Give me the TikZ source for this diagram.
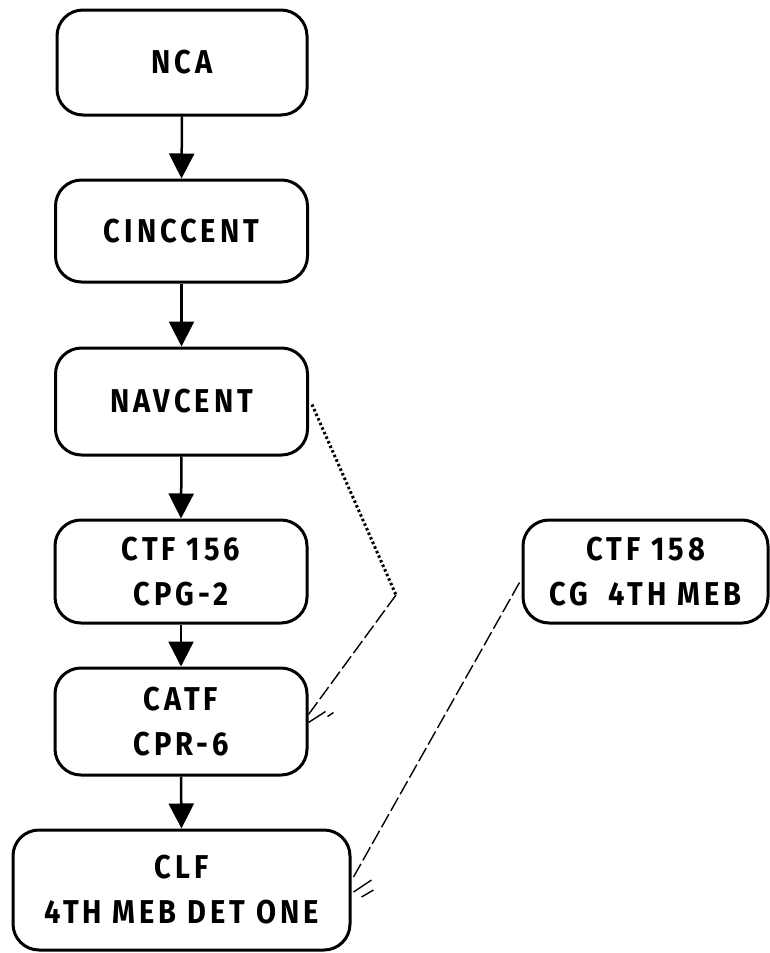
\documentclass[tikz,border=0pt]{standalone}
\usepackage{fontspec}
\newfontfamily\boxfont{Fira Sans}[FakeStretch=0.88,LetterSpace=12]
\usetikzlibrary{arrows.meta,calc}
\begin{document}
\begin{tikzpicture}[x=1pt,y=-1pt,
  orgbox/.style={draw,line width=3pt,rounded corners=26pt,rectangle,
    minimum width=252pt,minimum height=105pt,inner sep=0pt,align=center,
    font=\boxfont\bfseries\fontsize{33}{45}\selectfont},
  flow/.style={line width=2.5pt,-{Triangle[width=25pt,length=25pt]}},
  dotline/.style={line width=3pt,dash pattern=on 2.5pt off 2.5pt},
  dashline/.style={line width=1.4pt,dash pattern=on 15pt off 4pt},
  hash/.style={line width=1.4pt}]
\useasboundingbox (0,0) rectangle (770,953);
\node[orgbox,minimum width=250pt] (nca) at (182,62.5) {NCA};
\node[orgbox,minimum height=102pt] (cinc) at (181.5,231) {CINCCENT};
\node[orgbox,minimum height=107pt] (nav) at (181.5,401.5) {NAVCENT};
\node[orgbox,minimum height=103pt] (ctfa) at (181,571.5) {CTF 156\\CPG-2};
\node[orgbox,minimum height=107pt] (catf) at (181,721.5) {CATF\\CPR-6};
\node[orgbox,minimum width=337pt,minimum height=120pt] (clf) at (181.5,890) {CLF\\4TH MEB DET ONE};
\node[orgbox,minimum width=245pt,minimum height=103pt] (ctfb) at (645.5,571.5) {CTF 158\\CG\hspace{10pt} 4TH MEB};
\draw[flow] (nca.south) -- (cinc.north);
\draw[flow] (cinc.south) -- (nav.north);
\draw[flow] (nav.south) -- (ctfa.north);
\draw[flow] (ctfa.south) -- (catf.north);
\draw[flow] (catf.south) -- (clf.north);
\coordinate (bend) at (396,595);
\coordinate (e1) at ($(catf.east)+(0,-7)$);
\coordinate (s2) at ($(ctfb.west)+(-2,11)$);
\coordinate (e2) at ($(clf.east)+(2,-13)$);
\draw[dotline] ($(nav.east)+(3,3)$) -- (bend);
\draw[dashline] (bend) -- (e1);
\draw[hash] ($(e1)+(0,8)$) -- ($(e1)+(17,-3)$);
\draw[hash] ($(e1)+(19,2)$) -- ($(e1)+(25,-2)$);
\draw[dashline] (s2) -- (e2);
\draw[hash] ($(e2)+(0,15)$) -- ($(e2)+(18,3)$);
\draw[hash] ($(e2)+(8,20)$) -- ($(e2)+(20,13)$);
\end{tikzpicture}
\end{document}
